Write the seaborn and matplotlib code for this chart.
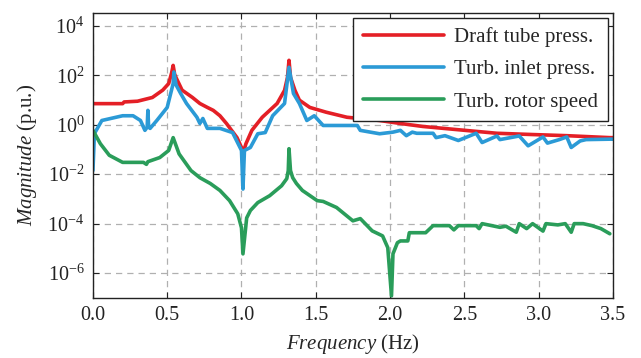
import matplotlib
matplotlib.use('Agg')
import matplotlib.pyplot as plt
import seaborn as sns
import pandas as pd
import numpy as np

# 데이터
freq_red = [0.00, 0.20, 0.21, 0.30, 0.40, 0.47, 0.51, 0.53, 0.54, 0.55, 0.56, 0.60, 0.67,
            0.72, 0.77, 0.81, 0.855, 0.90, 0.97, 1.00, 1.01, 1.03, 1.07, 1.14, 1.24, 1.29,
            1.31, 1.32, 1.33, 1.36, 1.39, 1.46, 1.57, 1.71, 1.93, 2.07, 2.22, 2.36, 2.72,
            2.96, 3.19, 3.48, 3.50]
mag_red = [7.1, 7.1, 8.3, 8.9, 12.6, 25, 46, 126, 250, 110, 79, 25, 12.6,
           7.2, 5.0, 3.8, 2.3, 1.1, 0.30, 0.12, 0.068, 0.17, 0.59, 2.0, 7.2, 24.5,
           83, 400, 83, 24.5, 9.8, 5.0, 3.2, 2.0, 1.48, 1.12, 0.85, 0.71, 0.45,
           0.40, 0.36, 0.30, 0.30]

freq_blue = [0.00, 0.01, 0.06, 0.20, 0.27, 0.32, 0.35, 0.365, 0.37, 0.375, 0.385, 0.43, 0.50,
             0.54, 0.545, 0.56, 0.59, 0.63, 0.70, 0.72, 0.74, 0.77, 0.855, 0.94, 1.00, 1.01,
             1.02, 1.06, 1.11, 1.16, 1.21, 1.29, 1.32, 1.35, 1.39, 1.44, 1.49, 1.55, 1.78,
             1.80, 1.93, 2.02, 2.07, 2.11, 2.15, 2.18, 2.29, 2.31, 2.37, 2.46, 2.58, 2.62,
             2.72, 2.74, 2.87, 2.93, 3.03, 3.06, 3.14, 3.19, 3.22, 3.28, 3.32, 3.48, 3.50]
mag_blue = [0.014, 0.44, 1.48, 2.3, 2.3, 1.48, 0.59, 0.79, 3.8, 0.79, 0.71, 1.48, 5.0,
            46, 135, 40, 18.6, 7.2, 2.0, 1.12, 1.78, 0.71, 0.71, 0.48, 0.091, 0.0025,
            0.091, 0.12, 0.43, 0.48, 2.3, 7.2, 210, 18.2, 7.2, 1.48, 2.3, 0.93, 0.93,
            0.59, 0.43, 0.50, 0.59, 0.36, 0.50, 0.45, 0.45, 0.30, 0.36, 0.23, 0.45, 0.19,
            0.35, 0.25, 0.35, 0.14, 0.32, 0.18, 0.25, 0.32, 0.12, 0.22, 0.25, 0.26, 0.26]

freq_green = [0.00, 0.05, 0.11, 0.20, 0.34, 0.36, 0.37, 0.45, 0.51, 0.54, 0.58, 0.66, 0.72,
              0.79, 0.855, 0.92, 0.975, 1.00, 1.01, 1.035, 1.06, 1.11, 1.19, 1.27, 1.305,
              1.315, 1.32, 1.33, 1.345, 1.37, 1.41, 1.51, 1.55, 1.64, 1.75, 1.80, 1.88, 1.95,
              1.985, 2.01, 2.02, 2.05, 2.07, 2.12, 2.13, 2.24, 2.29, 2.40, 2.43, 2.46, 2.58,
              2.60, 2.62, 2.74, 2.78, 2.85, 2.87, 2.92, 2.96, 3.03, 3.05, 3.13, 3.18, 3.22,
              3.24, 3.30, 3.36, 3.42, 3.48]
mag_green = [0.59, 0.17, 0.058, 0.030, 0.030, 0.025, 0.032, 0.047, 0.091, 0.30, 0.066, 0.014, 0.0072,
             0.0042, 0.0022, 8.5e-4, 2.5e-4, 6.8e-5, 6.0e-6, 1.7e-4, 3.4e-4, 7.1e-4, 1.35e-3, 3.4e-3, 6.6e-3,
             0.014, 0.107, 0.014, 7.2e-3, 4.2e-3, 2.2e-3, 8.5e-4, 7.9e-4, 4.5e-4, 1.3e-4, 1.6e-4, 5.1e-5, 3.2e-5,
             1.07e-5, 1.2e-7, 6.0e-6, 1.7e-5, 2.0e-5, 2.0e-5, 4.3e-5, 4.3e-5, 8.3e-5, 8.3e-5, 5.6e-5, 8.3e-5, 8.3e-5,
             6.3e-5, 1.0e-4, 7.1e-5, 7.9e-5, 4.5e-5, 1.0e-4, 6.3e-5, 1.0e-4, 5.0e-5, 1.0e-4, 8.9e-5, 1.0e-4, 4.5e-5,
             1.0e-4, 1.0e-4, 8.3e-5, 6.3e-5, 3.9e-5]

labels = ['Draft tube press.', 'Turb. inlet press.', 'Turb. rotor speed']
colors = ['#e41f26', '#2b9ad6', '#2a9d5a']

# 그래프 설정
sns.set_style('ticks')
plt.rcParams.update({'font.family': ['Liberation Serif', 'DejaVu Serif']})
plt.rcParams.update({'mathtext.fontset': 'custom',
                     'mathtext.rm': 'Liberation Serif',
                     'mathtext.it': 'Liberation Serif:italic'})
plt.rcParams.update({'font.size': 14})

fig = plt.figure(figsize=(6.41, 3.58), dpi=100)
ax = fig.add_axes([0.145, 0.168, 0.811, 0.796])

series = [(freq_red, mag_red), (freq_blue, mag_blue), (freq_green, mag_green)]
for (f, m), lab, c in zip(series, labels, colors):
    df = pd.DataFrame({'freq': f, 'mag': m})
    sns.lineplot(data=df, x='freq', y='mag', ax=ax, color=c, lw=2.6,
                 label=lab, estimator=None)

ax.set_yscale('log')
ax.set_xlim(0, 3.5)
ax.set_ylim(1e-7, 10 ** 4.52)
ax.set_yticks([1e-6, 1e-4, 1e-2, 1e0, 1e2, 1e4])
ax.set_yticklabels([r'$10^{-6}$', r'$10^{-4}$', r'$10^{-2}$', r'$10^{0}$', r'$10^{2}$', r'$10^{4}$'])
ax.yaxis.set_minor_locator(matplotlib.ticker.NullLocator())
ax.set_xticks(np.arange(0, 3.51, 0.5))
ax.set_xticklabels(['%.1f' % v for v in np.arange(0, 3.51, 0.5)])
ax.tick_params(direction='in', top=True, right=True, length=4, width=0.8,
               labelsize=14.5, colors='#222222', pad=6)
ax.grid(True, ls=(0, (5, 4)), color='#b0b0b0', lw=0.9)
for s in ax.spines.values():
    s.set_linewidth(1.0)
    s.set_color('#222222')

ax.set_xlabel(r'$\mathit{Frequency}$ (Hz)', fontsize=15, labelpad=5)
ax.set_ylabel(r'$\mathit{Magnitude}$ (p.u.)', fontsize=15, labelpad=6)

leg = ax.legend(loc='upper right', fontsize=15, frameon=True, fancybox=False,
                edgecolor='#222222', framealpha=1, handlelength=3.9,
                handletextpad=0.5, borderaxespad=0.25, labelspacing=0.6,
                borderpad=0.45)
leg.get_frame().set_linewidth(1.0)

fig.savefig('out.png', dpi=100)
